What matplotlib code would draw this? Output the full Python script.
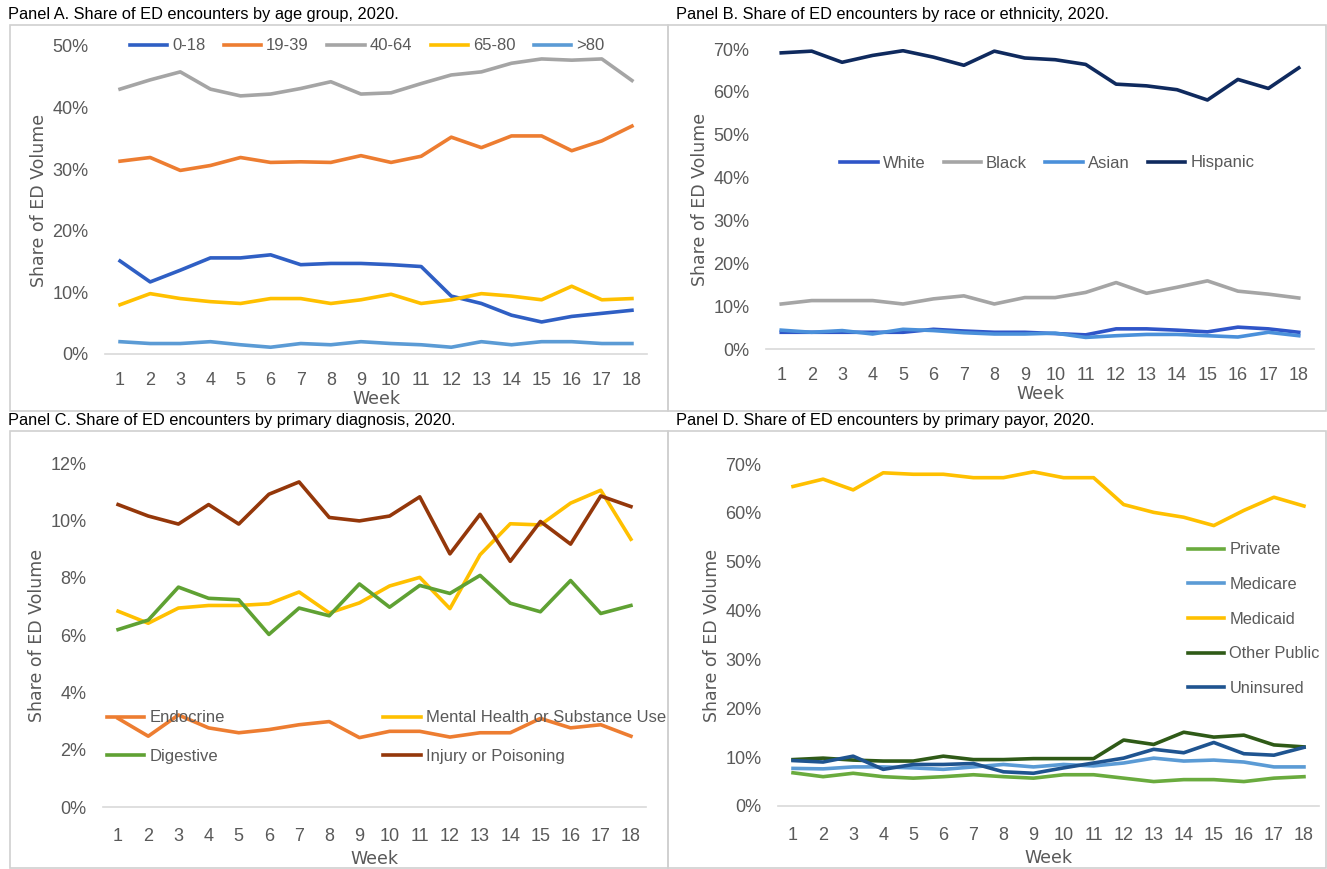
import matplotlib
matplotlib.use("Agg")
import matplotlib.pyplot as plt
from matplotlib.patches import Rectangle
from matplotlib.ticker import FuncFormatter

weeks = list(range(1, 18 + 1))

# Panel A - age group
age_labels = ["0-18", "19-39", "40-64", "65-80", ">80"]
age_0_18 = [15.1, 11.7, 13.6, 15.6, 15.6, 16.1, 14.5, 14.7, 14.7, 14.5, 14.2, 9.4, 8.2, 6.3, 5.2, 6.1, 6.6, 7.1]
age_19_39 = [31.3, 31.9, 29.8, 30.6, 31.9, 31.1, 31.2, 31.1, 32.2, 31.1, 32.1, 35.2, 33.5, 35.4, 35.4, 33.0, 34.6, 37.0]
age_40_64 = [43.0, 44.5, 45.8, 43.0, 41.9, 42.2, 43.1, 44.2, 42.2, 42.4, 43.9, 45.3, 45.8, 47.2, 47.9, 47.7, 47.9, 44.4]
age_65_80 = [8.0, 9.8, 9.0, 8.5, 8.2, 9.0, 9.0, 8.2, 8.8, 9.7, 8.2, 8.8, 9.8, 9.4, 8.8, 11.0, 8.8, 9.0]
age_80p = [2.0, 1.7, 1.7, 2.0, 1.5, 1.1, 1.7, 1.5, 2.0, 1.7, 1.5, 1.1, 2.0, 1.5, 2.0, 2.0, 1.7, 1.7]

# Panel B - race / ethnicity
race_labels = ["White", "Black", "Asian", "Hispanic"]
race_white = [3.9, 3.9, 3.9, 3.9, 3.9, 4.6, 4.2, 3.9, 3.9, 3.6, 3.3, 4.7, 4.7, 4.4, 4.0, 5.1, 4.7, 3.9]
race_black = [10.5, 11.3, 11.3, 11.3, 10.5, 11.7, 12.4, 10.5, 12.0, 12.0, 13.2, 15.5, 13.0, 14.4, 15.9, 13.5, 12.8, 11.9]
race_asian = [4.4, 3.9, 4.3, 3.5, 4.6, 4.3, 3.8, 3.5, 3.5, 3.7, 2.7, 3.1, 3.4, 3.4, 3.1, 2.8, 3.9, 3.1]
race_hispanic = [69.1, 69.5, 66.9, 68.5, 69.6, 68.1, 66.2, 69.5, 67.9, 67.5, 66.4, 61.8, 61.4, 60.5, 58.1, 62.9, 60.8, 65.6]

# Panel C - primary diagnosis
dx_labels = ["Endocrine", "Mental Health or Substance Use", "Digestive", "Injury or Poisoning"]
dx_endocrine = [3.09, 2.47, 3.21, 2.76, 2.59, 2.70, 2.87, 2.98, 2.42, 2.64, 2.64, 2.44, 2.59, 2.59, 3.09, 2.76, 2.87, 2.47]
dx_mental = [6.83, 6.41, 6.94, 7.03, 7.03, 7.09, 7.50, 6.77, 7.12, 7.71, 8.01, 6.92, 8.80, 9.88, 9.84, 10.60, 11.05, 9.34]
dx_digestive = [6.19, 6.52, 7.67, 7.28, 7.23, 6.02, 6.94, 6.67, 7.78, 6.97, 7.73, 7.45, 8.08, 7.11, 6.81, 7.90, 6.75, 7.03]
dx_injury = [10.55, 10.15, 9.87, 10.55, 9.87, 10.91, 11.34, 10.10, 9.98, 10.15, 10.82, 8.83, 10.21, 8.57, 9.96, 9.17, 10.85, 10.48]

# Panel D - primary payor
pay_labels = ["Private", "Medicare", "Medicaid", "Other Public", "Uninsured"]
pay_private = [6.8, 6.0, 6.7, 6.0, 5.7, 6.0, 6.4, 6.0, 5.7, 6.4, 6.4, 5.7, 5.0, 5.4, 5.4, 5.0, 5.7, 6.0]
pay_medicare = [7.7, 7.6, 8.0, 8.0, 7.8, 7.5, 8.0, 8.5, 8.0, 8.5, 8.2, 8.8, 9.8, 9.2, 9.4, 9.0, 8.0, 8.0]
pay_medicaid = [65.4, 66.9, 64.7, 68.2, 67.9, 67.9, 67.2, 67.2, 68.4, 67.2, 67.2, 61.7, 60.1, 59.1, 57.4, 60.5, 63.2, 61.4]
pay_other = [9.5, 9.8, 9.4, 9.2, 9.2, 10.2, 9.5, 9.5, 9.7, 9.7, 9.7, 13.5, 12.6, 15.1, 14.1, 14.5, 12.5, 12.1]
pay_uninsured = [9.3, 9.0, 10.2, 7.5, 8.5, 8.5, 8.7, 7.0, 6.7, 7.8, 8.8, 9.8, 11.6, 10.9, 13.0, 10.7, 10.4, 12.0]

W, H = 1327, 869
fig = plt.figure(figsize=(W / 100, H / 100), dpi=100)

TXT = "#595959"
LW = 2.6
FNT = "Liberation Sans"


def px(l, r, t, b):
    # pixel box -> figure fraction
    return [l / W, 1 - b / H, (r - l) / W, (b - t) / H]


def setup(ax, ymax, step, tick_pad, week_pad):
    ax.set_xlim(0.5, 18.5)
    ax.set_ylim(0, ymax)
    ax.set_yticks(range(0, ymax + 1, step))
    ax.yaxis.set_major_formatter(FuncFormatter(lambda v, p: f"{int(v)}%"))
    ax.set_xticks(weeks)
    for s in ["top", "right", "left"]:
        ax.spines[s].set_visible(False)
    ax.spines["bottom"].set_color("#D9D9D9")
    ax.spines["bottom"].set_linewidth(1.2)
    ax.tick_params(length=0, labelsize=13, colors=TXT)
    ax.tick_params(axis="x", pad=tick_pad)
    ax.tick_params(axis="y", pad=12)
    for lab in ax.get_xticklabels() + ax.get_yticklabels():
        lab.set_family(FNT)
    ax.set_ylabel("Share of ED Volume", fontsize=12.5, color=TXT, family="DejaVu Sans", labelpad=3)
    ax.set_xlabel("Week", fontsize=12.5, color=TXT, family="DejaVu Sans", labelpad=week_pad)


def legend(ax, handles, labels, size=12, **kw):
    ax.legend(handles, labels, frameon=False, borderpad=0, handlelength=2.25, handletextpad=0.3,
              prop={"family": FNT, "size": size}, labelcolor=TXT, **kw)


# panel borders and titles
for (l, t, r, b) in [(10, 25, 668, 411), (668, 25, 1326, 411), (10, 431, 668, 868), (668, 431, 1326, 868)]:
    fig.add_artist(Rectangle((l / W, 1 - b / H), (r - l) / W, (b - t) / H, transform=fig.transFigure,
                             fill=False, edgecolor="#D0D0D0", linewidth=1.2))
titles = [
    (8, 14, "Panel A. Share of ED encounters by age group, 2020."),
    (676, 14, "Panel B. Share of ED encounters by race or ethnicity, 2020."),
    (8, 421, "Panel C. Share of ED encounters by primary diagnosis, 2020."),
    (676, 421, "Panel D. Share of ED encounters by primary payor, 2020."),
]
for x, y, s in titles:
    fig.text(x / W, 1 - y / H, s, fontsize=11.8, family=FNT, color="black", va="center", ha="left")

# Panel A
axA = fig.add_axes(px(105, 647, 46, 354))
colA = ["#2F5FC4", "#ED7D31", "#A5A5A5", "#FFC000", "#5B9BD5"]
for vals, lab, c in zip([age_0_18, age_19_39, age_40_64, age_65_80, age_80p], age_labels, colA):
    axA.plot(weeks, vals, color=c, lw=LW, label=lab, solid_joinstyle="round")
setup(axA, 50, 10, 13, 1)
h, l = axA.get_legend_handles_labels()
legend(axA, h, l, loc="center left", bbox_to_anchor=(0.03, 1.0), ncol=5, columnspacing=1.1)

# Panel B
axB = fig.add_axes(px(766, 1314, 49, 349))
colB = ["#2F55C8", "#A5A5A5", "#4A90DA", "#0F2A5E"]
for vals, lab, c in zip([race_white, race_black, race_asian, race_hispanic], race_labels, colB):
    axB.plot(weeks, vals, color=c, lw=LW, label=lab, solid_joinstyle="round")
setup(axB, 70, 10, 13, 1)
h, l = axB.get_legend_handles_labels()
legend(axB, h, l, loc="center left", bbox_to_anchor=(0.12, 0.62), ncol=4, columnspacing=1.1)

# Panel C
axC = fig.add_axes(px(103, 646, 463, 807))
colC = ["#ED7D31", "#FFC000", "#5FA133", "#94370A"]
for vals, lab, c in zip([dx_endocrine, dx_mental, dx_digestive, dx_injury], dx_labels, colC):
    axC.plot(weeks, vals, color=c, lw=LW, label=lab, solid_joinstyle="round")
setup(axC, 12, 2, 15, 4)
h, l = axC.get_legend_handles_labels()
order = [0, 2, 1, 3]
legend(axC, [h[i] for i in order], [l[i] for i in order], loc="upper left", bbox_to_anchor=(-0.008, 0.305),
       ncol=2, columnspacing=9.5, labelspacing=1.4)

# Panel D
axD = fig.add_axes(px(778, 1319, 464, 806))
colD = ["#6AAB3E", "#5B9BD5", "#FFC000", "#2F5A17", "#1F5490"]
for vals, lab, c in zip([pay_private, pay_medicare, pay_medicaid, pay_other, pay_uninsured], pay_labels, colD):
    axD.plot(weeks, vals, color=c, lw=LW, label=lab, solid_joinstyle="round")
setup(axD, 70, 10, 15, 4)
h, l = axD.get_legend_handles_labels()
legend(axD, h, l, size=11.8, loc="upper left", bbox_to_anchor=(0.742, 0.795), ncol=1, labelspacing=1.2)

fig.savefig("out.png", dpi=100)
